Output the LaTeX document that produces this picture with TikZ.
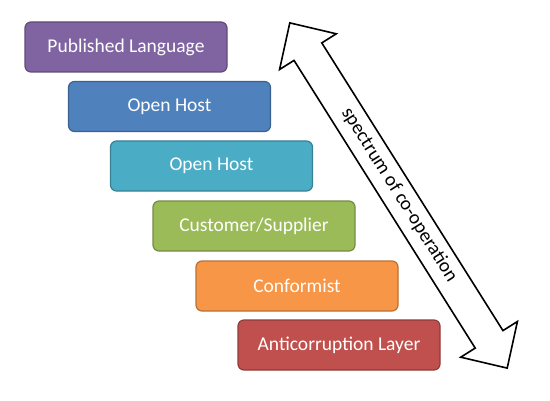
\documentclass[tikz,border=0pt]{standalone}
\usepackage{fontspec}
\setmainfont{Carlito}
\definecolor{cpurple}{HTML}{8064A2}
\definecolor{cblue}{HTML}{4F81BD}
\definecolor{caqua}{HTML}{4BACC6}
\definecolor{cgreen}{HTML}{9BBB59}
\definecolor{corange}{HTML}{F79646}
\definecolor{cred}{HTML}{C0504D}
\tikzset{
  layer/.style={rounded corners=6pt, minimum width=202pt, minimum height=50pt,
    line width=1.2pt, text=white, font=\fontsize{19.5}{21}\selectfont,
    draw=#1!75!black, fill=#1, inner sep=0pt},
  spectrum/.style={draw=black, line width=1.6pt, fill=white, line join=miter},
  spectext/.style={font=\fontsize{19.5}{21}\selectfont, text=black, inner sep=0pt}
}
\begin{document}
\begin{tikzpicture}[x=1pt,y=1pt]
\useasboundingbox (0,0) rectangle (550,400);
\node[layer=cpurple] (pl) at (126,353) {Published Language};
\node[layer=cblue]   (oh1) at (169.5,293.5) {Open Host};
\node[layer=caqua]   (oh2) at (211.5,234) {Open Host};
\node[layer=cgreen]  (cs) at (254,174) {Customer/Supplier};
\node[layer=corange] (cf) at (297,114) {Conformist};
\node[layer=cred]    (acl) at (339,55) {Anticorruption Layer};
\begin{scope}[shift={(398.5,204.5)}, rotate=-57.8]
  \draw[spectrum] (204,0) -- (170,33.5) -- (170,16.4) -- (-170,16.4) -- (-170,33.5)
    -- (-204,0) -- (-170,-33.5) -- (-170,-16.4) -- (170,-16.4) -- (170,-33.5) -- cycle;
  \node[spectext, rotate=-57.8] (sp) at (0,1) {spectrum of co-operation};
\end{scope}
\end{tikzpicture}
\end{document}
